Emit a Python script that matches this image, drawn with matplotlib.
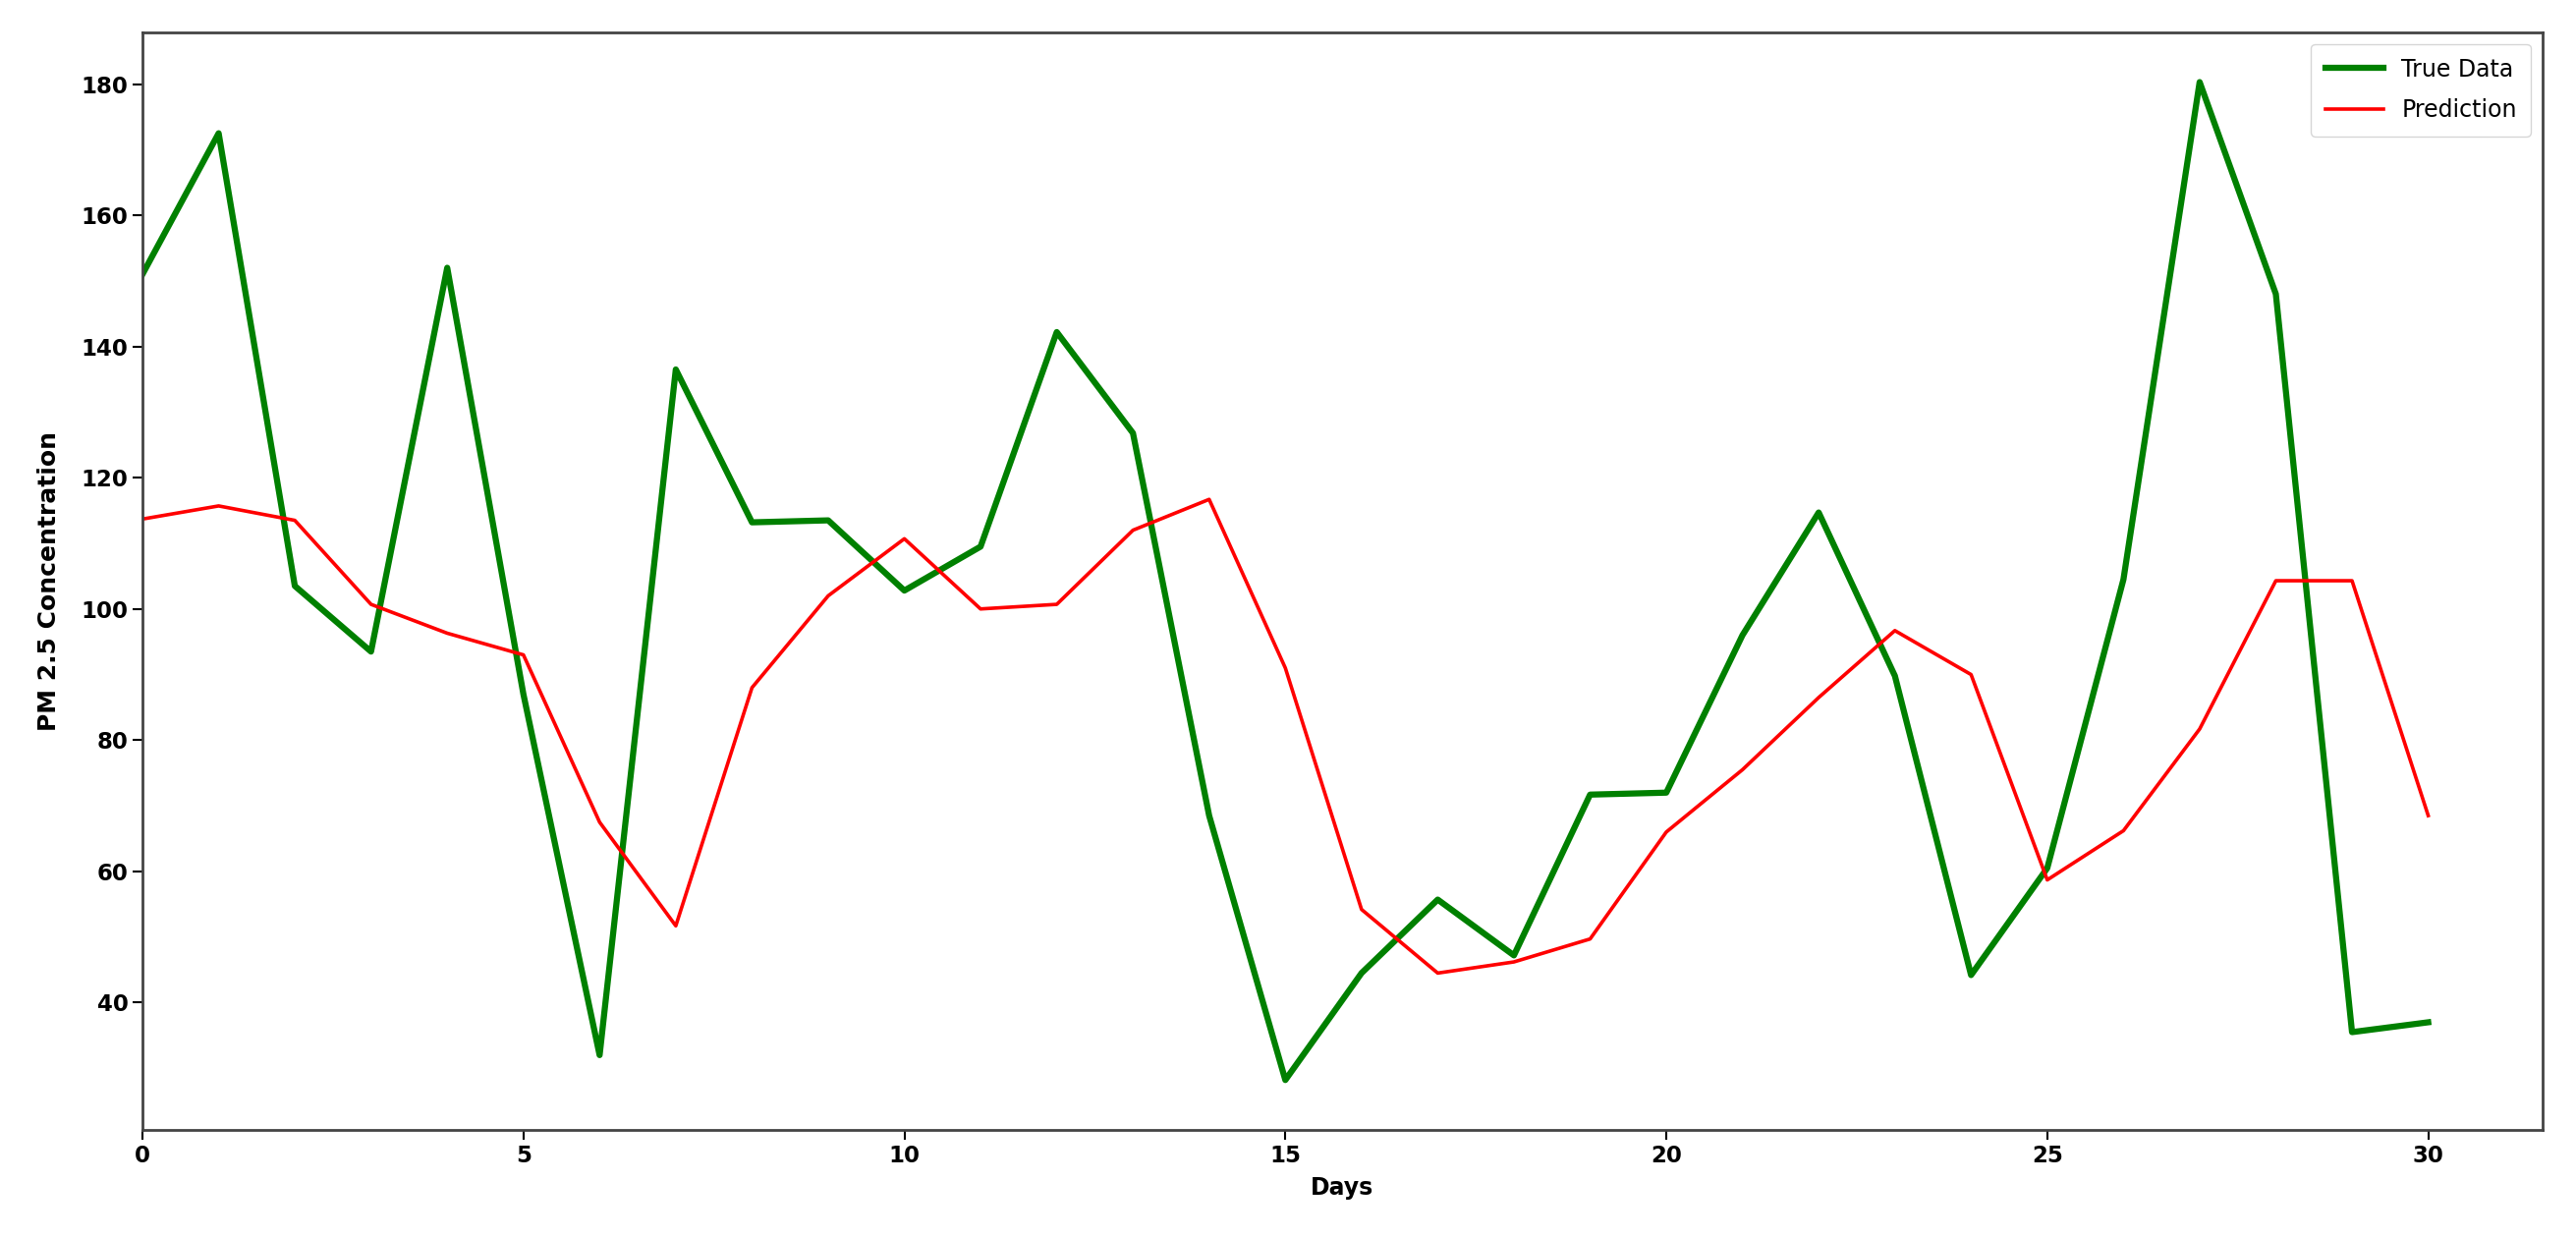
import matplotlib.pyplot as plt

days = list(range(31))
true_data = [151, 172.5, 103.5, 93.5, 152, 87, 32, 136.5, 113.2, 113.5,
             102.8, 109.5, 142.2, 126.8, 68.5, 28.2, 44.5, 55.7, 47.2, 71.7,
             72, 96, 114.7, 89.8, 44.2, 60.5, 104.5, 180.3, 148, 35.5, 37]
prediction = [113.7, 115.7, 113.5, 100.7, 96.3, 93, 67.5, 51.7, 88, 102,
              110.7, 100, 100.7, 112, 116.7, 91, 54.2, 44.5, 46.2, 49.7,
              66, 75.5, 86.5, 96.7, 90, 58.7, 66.2, 81.7, 104.3, 104.3, 68.5]

fig = plt.figure(figsize=(26.22, 12.6), dpi=100)
ax = fig.add_axes([0.0553, 0.0873, 0.9317, 0.8867])

ax.plot(days, true_data, color='green', linewidth=4.5, label='True Data')
ax.plot(days, prediction, color='red', linewidth=2.6, label='Prediction')

ax.set_xlim(0, 31.5)
ax.set_xticks([0, 5, 10, 15, 20, 25, 30])
ax.set_yticks([40, 60, 80, 100, 120, 140, 160, 180])
ax.tick_params(labelsize=16.5, length=7, width=1.5)
for lbl in ax.get_xticklabels() + ax.get_yticklabels():
    lbl.set_fontweight('bold')

ax.set_xlabel('Days', fontsize=17, fontweight='bold', labelpad=7)
ax.set_ylabel('PM 2.5 Concentration', fontsize=18, fontweight='bold', labelpad=15)

for s in ax.spines.values():
    s.set_linewidth(2)
    s.set_color('#444444')

ax.legend(loc='upper right', fontsize=17, handlelength=2.5,
          labelspacing=0.75, borderpad=0.6)

fig.savefig('out.png', dpi=100)
